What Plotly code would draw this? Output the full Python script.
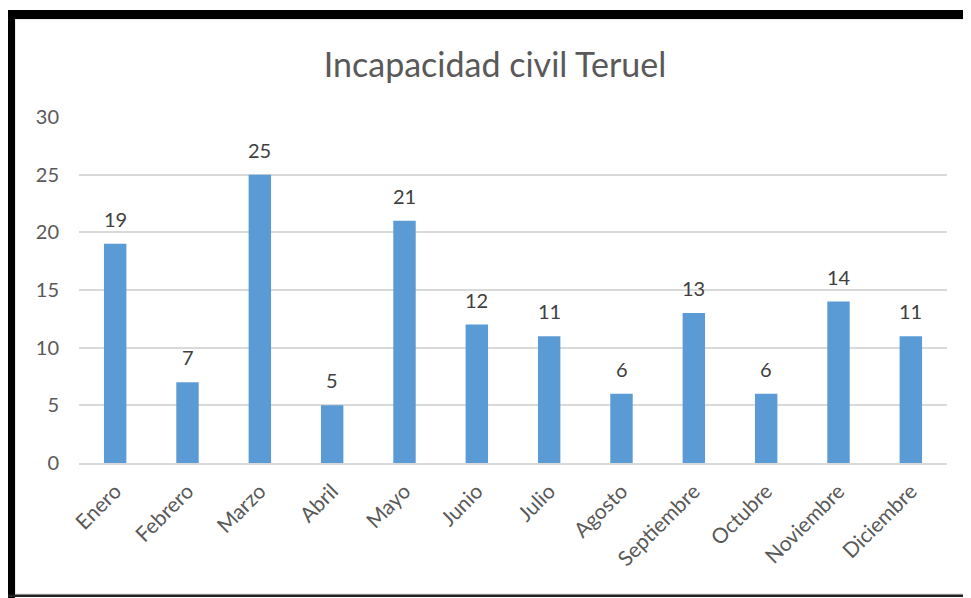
import plotly.graph_objects as go

months = ["Enero", "Febrero", "Marzo", "Abril", "Mayo", "Junio", "Julio",
          "Agosto", "Septiembre", "Octubre", "Noviembre", "Diciembre"]
values = [19, 7, 25, 5, 21, 12, 11, 6, 13, 6, 14, 11]
y_ticks = [0, 5, 10, 15, 20, 25, 30]

# the page body has an 8px margin, so the figure starts at (8, 8) on screen
OX, OY = 8, 8
W, H = 971 - OX, 598 - OY
L, R, T, B = 79 - OX, 24, 117 - OY, 598 - 463
pw, ph = W - L - R, H - T - B

def px_x(x):
    return (x - OX - L) / pw

def px_y(y):
    return (H - B - (y - OY)) / ph

FONT = "Lato, Calibri, Carlito, sans-serif"

fig = go.Figure(go.Bar(
    x=months, y=values,
    marker=dict(color="#5B9BD5", line=dict(width=0)),
    width=0.31,
    hoverinfo="x+y",
))

annotations = [
    dict(x=m, y=v, xref="x", yref="y", text=str(v), showarrow=False,
         yanchor="middle", yshift=25,
         font=dict(size=20, color="#404040", family=FONT))
    for m, v in zip(months, values)
]

shapes = [
    dict(type="rect", xref="paper", yref="paper", x0=px_x(15), x1=px_x(975), y0=px_y(594), y1=px_y(19),
         line=dict(color="#d9d9d9", width=1), fillcolor="rgba(0,0,0,0)", layer="below"),
    dict(type="rect", xref="paper", yref="paper", x0=px_x(0), x1=px_x(975), y0=px_y(19), y1=px_y(10),
         line=dict(width=0), fillcolor="black"),
    dict(type="rect", xref="paper", yref="paper", x0=px_x(0), x1=px_x(15), y0=px_y(600), y1=px_y(10),
         line=dict(width=0), fillcolor="black"),
    dict(type="rect", xref="paper", yref="paper", x0=px_x(6), x1=px_x(975), y0=px_y(597), y1=px_y(594.5),
         line=dict(width=0), fillcolor="#222222"),
]

fig.update_layout(
    width=W, height=H,
    margin=dict(l=L, r=R, t=T, b=B, pad=0, autoexpand=False),
    paper_bgcolor="white", plot_bgcolor="white",
    title=dict(text="Incapacidad civil Teruel", x=(495 - OX) / W, xref="container", xanchor="center",
               y=1 - (65 - OY) / H, yanchor="middle",
               font=dict(size=34, color="#595959", family=FONT)),
    font=dict(family=FONT, color="#595959", size=20),
    showlegend=False,
    bargap=0.69,
    shapes=shapes,
    annotations=annotations,
    xaxis=dict(tickangle=-45, showgrid=False, showline=True, linecolor="#d9d9d9", linewidth=1.5,
               ticks="", ticklabelstandoff=6, tickfont=dict(size=21, color="#595959"),
               fixedrange=True, automargin=False),
    yaxis=dict(range=[0, 30], tickvals=y_ticks, showgrid=True, gridcolor="#d9d9d9", gridwidth=1.5,
               zeroline=False, showline=False, ticks="", ticklabelstandoff=19,
               tickfont=dict(size=20, color="#595959"), fixedrange=True, automargin=False),
)

fig.write_html("out.html")
